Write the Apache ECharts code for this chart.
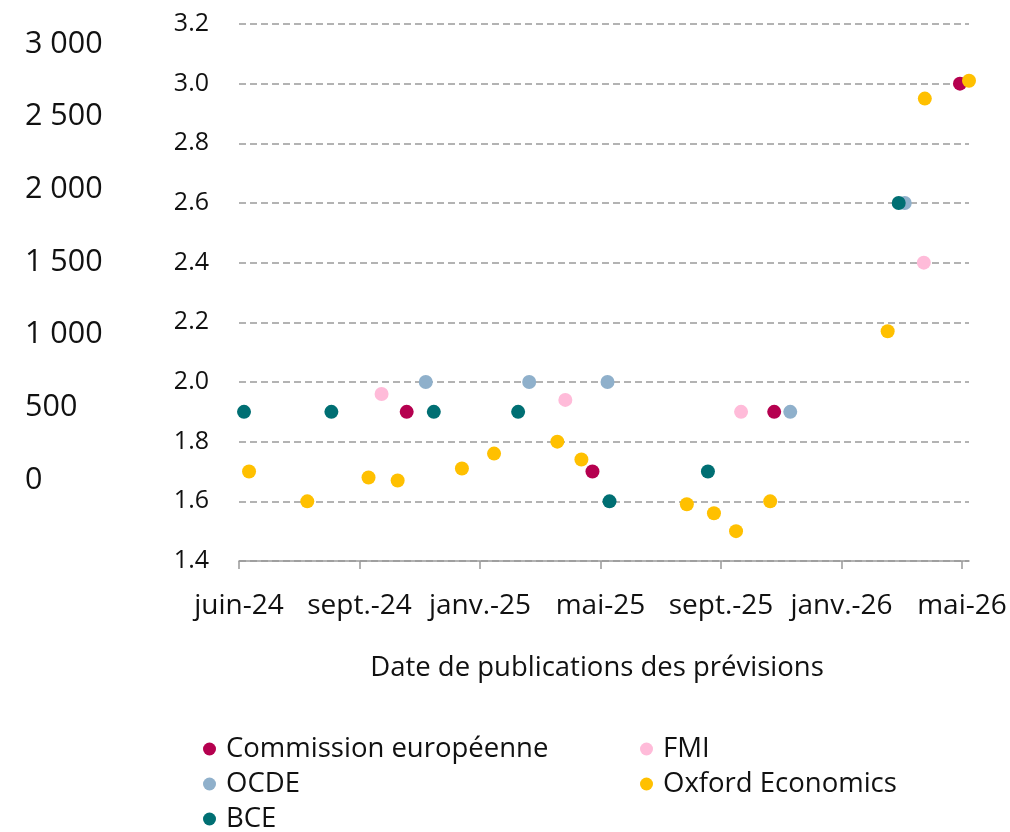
<!DOCTYPE html>
<html>
<head>
<meta charset="utf-8">
<script src="https://cdn.jsdelivr.net/npm/echarts@6/dist/echarts.min.js"></script>
<style>
  html, body { margin: 0; padding: 0; background: #fff; }
  #main { width: 1010px; height: 832px; }
</style>
</head>
<body>
<div id="main"></div>
<script>
// dates de publication et prévisions, par institution
var ceDates = ['2024-11-15', '2025-05-19', '2025-11-16', '2026-05-20'];
var ceValues = [1.9, 1.7, 1.9, 3.0];

var fmiDates = ['2024-10-21', '2025-04-22', '2025-10-14', '2026-04-14'];
var fmiValues = [1.96, 1.94, 1.9, 2.4];

var ocdeDates = ['2024-12-04', '2025-03-17', '2025-06-03', '2025-12-02', '2026-03-26'];
var ocdeValues = [2.0, 2.0, 2.0, 1.9, 2.6];

var oxfordDates = ['2024-06-11', '2024-08-08', '2024-10-08', '2024-11-06', '2025-01-09',
    '2025-02-10', '2025-04-14', '2025-05-08', '2025-08-21', '2025-09-17',
    '2025-10-09', '2025-11-12', '2026-03-09', '2026-04-15', '2026-05-29'];
var oxfordValues = [1.70, 1.60, 1.68, 1.67, 1.71, 1.76, 1.80, 1.74, 1.59, 1.56, 1.50, 1.60, 2.17, 2.95, 3.01];

var bceDates = ['2024-06-06', '2024-09-01', '2024-12-12', '2025-03-06', '2025-06-05', '2025-09-11', '2026-03-20'];
var bceValues = [1.9, 1.9, 1.9, 1.9, 1.6, 1.7, 2.6];

var xTicks = [0, 120, 240, 360, 480, 600, 720];   // jours depuis le 1er juin 2024

var BASE = Date.UTC(2024, 5, 1);
var MOIS = ['janv.', 'févr.', 'mars', 'avr.', 'mai', 'juin', 'juil.', 'août', 'sept.', 'oct.', 'nov.', 'déc.'];
var FONT = 'Open Sans';

function toDays (s) {
    var p = s.split('-');
    return (Date.UTC(+p[0], +p[1] - 1, +p[2]) - BASE) / 86400000;
}

function pairs (dates, values) {
    return dates.map(function (d, i) { return [toDays(d), values[i]]; });
}

function dayLabel (v) {
    var d = new Date(BASE + v * 86400000);
    return MOIS[d.getUTCMonth()] + '-' + String(d.getUTCFullYear()).slice(2);
}

var myChart = echarts.init(document.getElementById('main'));

function dot (name, color, dates, values) {
    return {
        name: name,
        type: 'scatter',
        xAxisIndex: 0,
        yAxisIndex: 0,
        symbol: 'circle',
        symbolSize: 14,
        clip: false,
        itemStyle: { color: color, opacity: 1 },
        data: pairs(dates, values)
    };
}

var legendText = { fontFamily: FONT, fontSize: 27.5, color: '#111', padding: [0, 0, 0, 5] };

option = {
    backgroundColor: '#fff',
    animation: false,
    textStyle: { fontFamily: FONT },
    grid: [
        { left: 239, right: 41, top: 24, bottom: 271 },
        { left: 130, width: 1, top: 44, height: 436 }
    ],
    legend: [
        {
            data: ['Commission européenne', 'OCDE', 'BCE'],
            orient: 'vertical',
            left: 198, top: 730, height: 130,
            itemWidth: 13, itemHeight: 13, itemGap: 7,
            icon: 'circle',
            textStyle: legendText
        },
        {
            data: ['FMI', 'Oxford Economics'],
            orient: 'vertical',
            left: 635, top: 730, height: 130,
            itemWidth: 13, itemHeight: 13, itemGap: 7,
            icon: 'circle',
            textStyle: legendText
        }
    ],
    xAxis: [
        {
            type: 'value',
            gridIndex: 0,
            min: 0,
            max: 727,
            interval: 120,
            name: 'Date de publications des prévisions',
            nameLocation: 'middle',
            nameGap: 93,
            nameTextStyle: { fontFamily: FONT, fontSize: 27.5, color: '#111', padding: [0, 14, 0, 0] },
            axisLine: { show: true, lineStyle: { color: '#999', width: 1.5 } },
            axisTick: { show: true, length: 8, customValues: xTicks, lineStyle: { color: '#999', width: 1.5 } },
            axisLabel: {
                customValues: xTicks,
                margin: 31,
                fontFamily: FONT, fontSize: 28, color: '#111',
                formatter: dayLabel
            },
            splitLine: { show: false }
        },
        { type: 'value', gridIndex: 1, show: false, min: 0, max: 1 }
    ],
    yAxis: [
        {
            type: 'value',
            gridIndex: 0,
            min: 1.4,
            max: 3.2,
            interval: 0.2,
            axisLine: { show: false },
            axisTick: { show: false },
            axisLabel: {
                margin: 30,
                fontFamily: FONT, fontSize: 25, color: '#111',
                formatter: function (v) { return v.toFixed(1); }
            },
            splitLine: { lineStyle: { color: '#9a9a9a', width: 1.5, type: [7, 4] } }
        },
        {
            type: 'value',
            gridIndex: 1,
            min: 0,
            max: 3000,
            interval: 500,
            axisLine: { show: false },
            axisTick: { show: false },
            splitLine: { show: false },
            axisLabel: {
                align: 'left',
                margin: 105,
                fontFamily: FONT, fontSize: 30.5, color: '#111',
                formatter: function (v) { return String(v).replace(/\B(?=(\d{3})+(?!\d))/g, ' '); }
            }
        }
    ],
    series: [
        dot('Commission européenne', '#b5004f', ceDates, ceValues),
        dot('FMI', '#ffbbd9', fmiDates, fmiValues),
        dot('OCDE', '#8fb0cb', ocdeDates, ocdeValues),
        dot('Oxford Economics', '#ffc000', oxfordDates, oxfordValues),
        dot('BCE', '#006f73', bceDates, bceValues)
    ]
};
myChart.setOption(option);
</script>
</body>
</html>
